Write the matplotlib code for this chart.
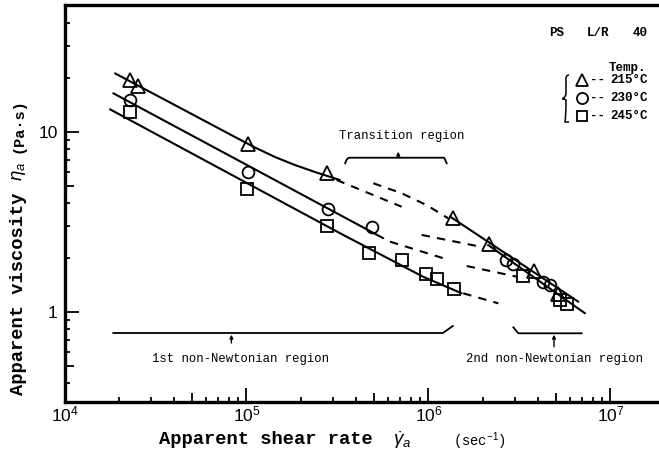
import numpy as np
import matplotlib
matplotlib.use('Agg')
import matplotlib.pyplot as plt
from matplotlib.path import Path
from matplotlib.patches import PathPatch
from matplotlib.ticker import FixedLocator, FuncFormatter, NullFormatter

plt.rcParams['mathtext.fontset'] = 'custom'
plt.rcParams['mathtext.rm'] = 'Liberation Sans'
plt.rcParams['mathtext.it'] = 'Liberation Sans:italic'

W, H = 659, 455
MONO = 'Liberation Mono'

# measured points, shear rate [1/s] and viscosity [Pa s]
rate_215 = [2.29e4, 2.54e4, 1.02e5, 2.77e5, 1.37e6, 2.15e6, 3.80e6, 5.15e6]
visc_215 = [19.4, 17.9, 8.55, 5.90, 3.30, 2.39, 1.69, 1.25]

rate_230 = [2.29e4, 1.015e5, 2.81e5, 4.87e5, 2.65e6, 2.93e6, 4.28e6, 4.67e6]
visc_230 = [15.0, 6.0, 3.71, 2.94, 1.94, 1.83, 1.46, 1.40]

rate_245 = [2.29e4, 1.01e5, 2.77e5, 4.74e5, 7.18e5, 9.66e5, 1.12e6, 1.38e6,
            3.32e6, 5.28e6, 5.79e6]
visc_245 = [12.9, 4.81, 2.98, 2.11, 1.95, 1.63, 1.51, 1.34, 1.57, 1.16, 1.11]

# hand drawn curves, 1st and 2nd non-Newtonian regions
fit1_215_x = [1.895e4, 8.646e4, 1.114e5, 1.434e5, 1.847e5, 2.379e5, 3.263e5]
fit1_215_y = [21.1, 9.345, 8.17, 7.235, 6.53, 5.97, 5.39]
fit1_230_x = [1.854e4, 5.645e5]
fit1_230_y = [16.35, 2.56]
fit1_245_x = [1.778e4, 3.263e5, 9.328e5, 1.522e6]
fit1_245_y = [13.32, 2.73, 1.565, 1.265]
fit2_215_x = [1.312e6, 6.65e6]
fit2_215_y = [3.38, 1.137]
fit2_230_x = [2.123e6, 7.24e6]
fit2_230_y = [2.35, 0.98]

# dashed extensions through the transition region
dash_curves = [
    ([3.13e5, 7.123e5], [5.39, 3.83]),
    ([4.975e5, 7.123e5, 9.77e5, 1.285e6], [5.17, 4.55, 3.91, 3.30]),
    ([6.145e5, 1.26e6], [2.45, 1.955]),
    ([9.175e5, 2.0e6], [2.67, 2.28]),
    ([1.553e6, 2.418e6], [1.265, 1.113]),
    ([1.622e6, 3.053e6], [1.794, 1.565]),
]

temps = ['215°C', '230°C', '245°C']
markers = ['^', 'o', 's']


def fpx(x, y):
    return x / W, 1 - y / H


fig = plt.figure(figsize=(W / 100, H / 100), dpi=100)
ax = fig.add_axes([64.5 / W, 1 - 401.7 / H, (W - 64.5) / W, 396.7 / H])
ax.set_xscale('log')
ax.set_yscale('log')
ax.set_xlim(1e4, 10 ** 7.2665)
ax.set_ylim(10 ** -0.5, 10 ** 1.704)

line_kw = dict(color='black', lw=1.5, solid_capstyle='round', solid_joinstyle='round')
for xs, ys in [(fit1_215_x, fit1_215_y), (fit1_230_x, fit1_230_y),
               (fit1_245_x, fit1_245_y), (fit2_215_x, fit2_215_y),
               (fit2_230_x, fit2_230_y)]:
    ax.plot(xs, ys, **line_kw)
for xs, ys in dash_curves:
    ax.plot(xs, ys, color='black', lw=1.5, dashes=(4, 3.5))

mk_kw = dict(ls='none', mfc='none', mec='black', mew=1.3)
ax.plot(rate_215, visc_215, marker='^', ms=9.5, **mk_kw)
ax.plot(rate_230, visc_230, marker='o', ms=8.5, **mk_kw)
ax.plot(rate_245, visc_245, marker='s', ms=8, **mk_kw)

# region brackets
bk = dict(color='black', lw=1.3)
arrow = dict(arrowstyle='-|>', color='black', lw=1.0, mutation_scale=5,
             shrinkA=0, shrinkB=0)
ax.plot([3.485e5, 3.55e5, 3.65e5, 1.22e6, 1.259e6], [6.68, 7.0, 7.17, 7.17, 6.68], **bk)
ax.annotate('', xy=(6.82e5, 7.75), xytext=(6.82e5, 7.17), arrowprops=arrow)
ax.text(7.1e5, 9.46, 'Transition region', family=MONO, fontsize=8.8,
        ha='center', va='center')

ax.plot([1.854e4, 1.20e6, 1.36e6], [0.7615, 0.7615, 0.833], **bk)
ax.annotate('', xy=(8.26e4, 0.745), xytext=(8.26e4, 0.67), arrowprops=arrow)
ax.text(9.25e4, 0.5466, '1st non-Newtonian region', family=MONO,
        fontsize=8.8, ha='center', va='center')

ax.plot([2.925e6, 3.114e6, 6.948e6], [0.819, 0.7586, 0.7586], **bk)
ax.annotate('', xy=(4.893e6, 0.745), xytext=(4.893e6, 0.639), arrowprops=arrow)
ax.text(4.95e6, 0.544, '2nd non-Newtonian region', family=MONO,
        fontsize=8.8, ha='center', va='center')

# axes frame and ticks
for side in ['left', 'top', 'bottom']:
    ax.spines[side].set_linewidth(2.4)
ax.spines['right'].set_visible(False)

decades = [1e4, 1e5, 1e6, 1e7]
ax.xaxis.set_major_locator(FixedLocator(decades))
ax.xaxis.set_minor_locator(FixedLocator([m * d for d in decades for m in range(2, 10)]))
ax.xaxis.set_major_formatter(FuncFormatter(lambda v, p: r'$10^{%d}$' % round(np.log10(v))))
ax.xaxis.set_minor_formatter(NullFormatter())

ax.yaxis.set_major_locator(FixedLocator([1, 10]))
ax.yaxis.set_minor_locator(FixedLocator([m * d for d in [0.1, 1, 10] for m in range(2, 10)]))
ax.yaxis.set_major_formatter(FuncFormatter(lambda v, p: '%d' % v))
ax.yaxis.set_minor_formatter(NullFormatter())

ax.tick_params(which='both', direction='in', width=1.3, top=False, right=False,
               labelsize=12.5)
ax.tick_params(which='major', length=10)
ax.tick_params(axis='x', which='major', pad=2)
ax.tick_params(axis='y', which='major', pad=5)
ax.tick_params(which='minor', length=3.5)
for axis in [ax.xaxis, ax.yaxis]:
    for tick, loc in zip(axis.get_minor_ticks(), axis.get_minorticklocs()):
        if abs(loc / 10 ** np.floor(np.log10(loc)) - 5) < 0.01:
            tick.tick1line.set_markersize(6.5)
for lab in ax.get_xticklabels() + ax.get_yticklabels():
    lab.set_family('Liberation Sans')

# axis titles
fig.text(*fpx(266, 440), 'Apparent shear rate', family=MONO,
         fontweight='bold', fontsize=13.5, ha='center', va='center')
fig.text(*fpx(402, 440), r'$\dot{\gamma}_a$', fontsize=13.5, ha='center',
         va='center')
fig.text(*fpx(479, 441), r'(sec$^{-1}$)', family=MONO, fontsize=10,
         ha='center', va='center')
fig.text(*fpx(19, 294), 'Apparent viscosity', family=MONO, fontweight='bold',
         fontsize=13.5, ha='center', va='center', rotation=90)
fig.text(*fpx(19, 171), r'$\eta_a$', fontsize=13.5, ha='center', va='center',
         rotation=90)
fig.text(*fpx(19, 126), '(Pa·s)', family=MONO, fontweight='bold', fontsize=11,
         ha='center', va='center', rotation=90)

# sample notes and temperature key
note = dict(family=MONO, fontweight='bold', fontsize=9, va='center')
fig.text(*fpx(557, 33), 'PS', ha='center', **note)
fig.text(*fpx(598, 33), 'L/R', ha='center', **note)
fig.text(*fpx(640, 33), '40', ha='center', **note)
fig.text(*fpx(627, 68), 'Temp.', ha='center', **note)
for i, (t, m) in enumerate(zip(temps, markers)):
    yy = 80 + 18 * i
    fig.lines.append(plt.Line2D([581.5 / W], [1 - yy / H], marker=m,
                                ms=[8.5, 8, 7.5][i], mfc='none', mec='black',
                                mew=1.3, transform=fig.transFigure))
    fig.text(*fpx(590, yy), '--', ha='left', **note)
    fig.text(*fpx(610, yy), t, ha='left', **note)

verts = [(569, 75), (565, 75), (566, 82), (566, 93), (566, 97), (563, 98.5), (562, 98.5),
         (563, 98.5), (566, 100), (566, 104), (566, 115), (565, 122), (569, 122)]
codes = [Path.MOVETO, Path.CURVE3, Path.CURVE3, Path.LINETO, Path.CURVE3, Path.CURVE3,
         Path.LINETO, Path.CURVE3, Path.CURVE3, Path.LINETO, Path.CURVE3, Path.CURVE3,
         Path.LINETO]
brace = Path([fpx(x, y) for x, y in verts], codes)
fig.patches.append(PathPatch(brace, fc='none', ec='black', lw=1.1,
                             transform=fig.transFigure))

fig.savefig('out.png', dpi=100)
